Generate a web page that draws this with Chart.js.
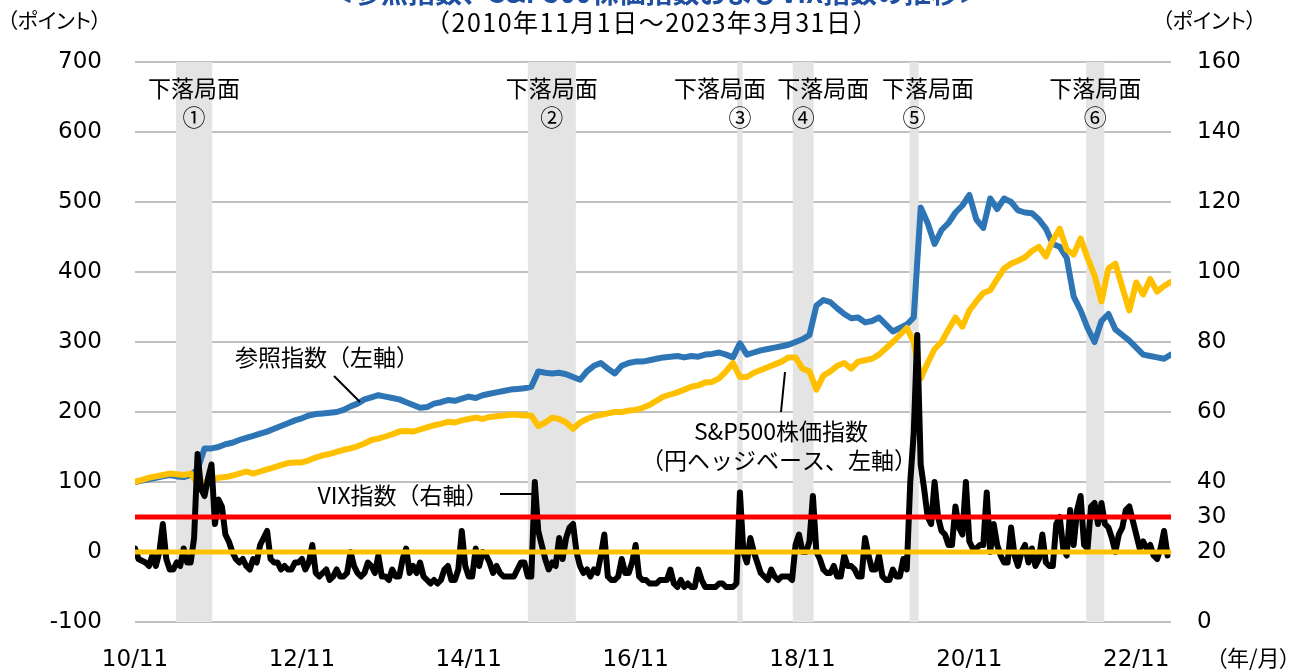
<!DOCTYPE html>
<html lang="ja">
<head>
<meta charset="utf-8">
<script src="https://cdn.jsdelivr.net/npm/chart.js@4.4.1/dist/chart.umd.min.js"></script>
<style>
  html, body { margin: 0; padding: 0; background: #fff; }
  #wrap { position: relative; width: 1296px; height: 672px; overflow: hidden; }
  .unit {
    position: absolute; font-family: "Noto Sans CJK JP", sans-serif;
    font-feature-settings: "palt" 1; color: #000; line-height: 1; white-space: nowrap;
  }
</style>
</head>
<body>
<div id="wrap">
  <canvas id="chart" width="1296" height="672"></canvas>
  <div class="unit" style="left:7px; top:9px; font-size:21px;">（ポイント）</div>
  <div class="unit" style="left:1162px; top:9px; font-size:21px;">（ポイント）</div>
  <div class="unit" style="left:1216px; top:645px; font-size:22px;">（年/月）</div>
</div>
<script>
// x は 2010年11月1日からの経過月数
const xTickMonths = [0, 24, 48, 72, 96, 120, 144];
const xTickLabels = ['10/11', '12/11', '14/11', '16/11', '18/11', '20/11', '22/11'];
const rightTicks = [0, 20, 30, 40, 60, 80, 100, 120, 140, 160];

// 参照指数（左軸）月次
const refIndex = [
  100, 102, 104, 106, 108, 110, 108, 107, 110, 118, 148, 148,
  150, 154, 156, 160, 163, 166, 169, 172, 176, 180, 184, 188,
  191, 195, 197, 198, 199, 200, 203, 208, 212, 218, 221, 224,
  222, 220, 218, 214, 210, 206, 207, 212, 214, 217, 216, 219,
  222, 220, 224, 226, 228, 230, 232, 233, 234, 236, 258, 256,
  255, 256, 254, 250, 246, 258, 266, 270, 262, 255, 266, 270,
  272, 272, 274, 276, 278, 279, 280, 278, 280, 279, 282, 283,
  285, 282, 278, 298, 282, 285, 288, 290, 292, 294, 296, 300,
  304, 310, 352, 360, 357, 348, 340, 334, 335, 328, 330, 335,
  325, 315, 320, 325, 335, 492, 470, 440, 460, 470, 485, 495,
  510, 475, 463, 505, 490, 505, 500, 488, 485, 484, 475, 462,
  440, 436, 420, 365, 345, 320, 300, 330, 340, 318, 310, 302,
  292, 282, 280, 278, 276, 282
];

// S&P500株価指数（円ヘッジベース、左軸）月次
const spIndex = [
  100, 103, 106, 108, 110, 112, 111, 110, 112, 98, 100, 104,
  106, 107, 109, 112, 115, 112, 115, 118, 121, 124, 127, 128,
  128, 131, 135, 138, 140, 143, 146, 148, 151, 155, 160, 162,
  165, 168, 172, 173, 172, 175, 178, 181, 183, 186, 185, 188,
  190, 192, 190, 193, 194, 195, 196, 196, 195, 195, 180, 185,
  192, 190, 185, 176, 185, 190, 194, 196, 198, 200, 200, 202,
  203, 206, 210, 216, 222, 225, 228, 232, 236, 238, 242, 243,
  248, 258, 270, 250, 250, 256, 260, 264, 268, 272, 278, 278,
  262, 258, 232, 252, 258, 266, 270, 262, 272, 274, 276, 282,
  291, 300, 310, 320, 300, 248, 270, 290, 300, 318, 335, 322,
  345, 358, 370, 374, 390, 405, 412, 416, 421, 430, 436, 422,
  445, 462, 432, 425, 448, 420, 395, 358, 405, 412, 378, 345,
  385, 368, 390, 372, 380, 386
];

// VIX指数（右軸）半月ごと
const vixIndex = [
  21, 18, 17.5, 17,
  16, 19, 16, 20, 28, 18, 15, 15, 17, 16, 21, 17, 17, 24, 48, 38, 36, 41, 45, 28, 35, 33, 25, 23,
  20, 18, 17, 18, 16, 15, 18, 17, 22, 24, 26, 18, 17, 17, 15, 16, 15, 15, 17, 17, 18, 15, 17, 22,
  14, 13, 14, 15, 12, 13, 15, 13, 13, 14, 20, 16, 14, 13, 14, 17, 16, 14, 19, 13, 13, 12, 15, 13,
  13, 18, 21, 14, 16, 14, 17, 13, 12, 11, 12, 11, 12, 15, 16, 12, 12, 15, 26, 16, 13, 13, 21, 16,
  20, 19, 17, 14, 16, 14, 13, 13, 13, 13, 15, 17, 17, 13, 13, 40, 26, 22, 18, 15, 17, 16, 24, 18,
  24, 27, 28, 20, 16, 14, 15, 13, 15, 14, 19, 25, 13, 12, 12, 13, 18, 14, 14, 17, 22, 13, 12, 12,
  11, 11, 11, 12, 12, 12, 15, 11, 10, 12, 10, 11, 10, 10, 15, 12, 10, 10, 10, 10, 11, 11, 10, 10,
  10, 11, 37, 20, 17, 24, 20, 17, 14, 13, 12, 15, 13, 12, 13, 13, 13, 12, 22, 25, 20, 20, 23, 36,
  20, 18, 15, 14, 14, 16, 13, 13, 19, 16, 16, 15, 13, 13, 24, 19, 15, 15, 19, 13, 12, 12, 15, 13,
  13, 18, 15, 40, 54, 82, 45, 38, 30, 28, 40, 30, 26, 25, 22, 22, 33, 27, 25, 40, 23, 21, 21, 22,
  22, 37, 20, 28, 22, 19, 17, 17, 27, 19, 16, 20, 22, 17, 21, 16, 18, 25, 17, 16, 16, 28, 30, 21,
  19, 32, 22, 32, 36, 22, 21, 33, 34, 28, 34, 28, 27, 24, 20, 25, 27, 32, 33, 29, 25, 21, 23, 21,
  22, 19, 18, 21, 26, 19
];

// 下落局面（開始・終了の経過月）
const bandStart = [5.9, 56.5, 86.6, 94.6, 111.4, 136.8];
const bandEnd = [11.1, 63.4, 87.4, 97.6, 112.7, 139.4];
const bandNumbers = ['①', '②', '③', '④', '⑤', '⑥'];

const vixLines = [30, 20];

const jp = '"Noto Sans CJK JP", "Noto Sans", sans-serif';
const num = '"DejaVu Sans", sans-serif';

const refData = refIndex.map((v, i) => ({ x: i, y: v }));
const spData = spIndex.map((v, i) => ({ x: i, y: v }));
const vixData = vixIndex.map((v, i) => ({ x: i / 2, y: v }));

const textPlugin = {
  id: 'texts',
  beforeDatasetsDraw(chart) {
    const { ctx, chartArea, scales } = chart;
    ctx.save();
    ctx.fillStyle = '#e4e4e4';
    bandStart.forEach((s, i) => {
      const x0 = scales.x.getPixelForValue(s);
      const x1 = scales.x.getPixelForValue(bandEnd[i]);
      ctx.fillRect(x0, chartArea.top, x1 - x0, chartArea.bottom - chartArea.top);
    });
    ctx.restore();
  },
  afterDraw(chart) {
    const { ctx, scales } = chart;
    ctx.save();
    ctx.textBaseline = 'middle';
    ctx.textAlign = 'center';

    // タイトル（上端で切れている）
    ctx.fillStyle = '#1f4fa0';
    ctx.font = 'bold 27px ' + jp;
    ctx.fillText('＜参照指数、S&P500株価指数およびVIX指数の推移＞', 656, -7);
    ctx.fillStyle = '#000';
    ctx.font = '25px ' + jp;
    ctx.letterSpacing = '1.5px';
    ctx.fillText('（2010年11月1日～2023年3月31日）', 652, 22);
    ctx.letterSpacing = '0px';

    // 下落局面ラベル
    const textShift = [0, 0, -20, 20, 14, 0];
    ctx.font = '23px ' + jp;
    bandStart.forEach((s, i) => {
      const c = (scales.x.getPixelForValue(s) + scales.x.getPixelForValue(bandEnd[i])) / 2;
      ctx.fillText('下落局面', c + textShift[i], 88);
      ctx.fillText(bandNumbers[i], c, 117);
    });

    // 系列ラベルと引き出し線
    ctx.fillText('参照指数（左軸）', 327, 357);
    ctx.fillText('S&P500株価指数', 781, 431);
    ctx.fillText('（円ヘッジベース、左軸）', 779, 460);
    ctx.fillText('VIX指数（右軸）', 403, 495);

    ctx.strokeStyle = '#000';
    ctx.lineWidth = 2;
    ctx.beginPath();
    ctx.moveTo(334, 376); ctx.lineTo(360, 402);
    ctx.moveTo(785, 372); ctx.lineTo(781, 412);
    ctx.moveTo(500, 494); ctx.lineTo(536, 494);
    ctx.stroke();
    ctx.restore();
  }
};

const line = (label, data, color, axis, width) => ({
  label, data, borderColor: color, backgroundColor: color, yAxisID: axis,
  borderWidth: width, pointRadius: 0, tension: 0, fill: false,
  borderJoinStyle: 'round', borderCapStyle: 'round'
});

new Chart(document.getElementById('chart'), {
  type: 'line',
  data: {
    datasets: [
      line('VIX30', [{ x: 0, y: vixLines[0] }, { x: 149, y: vixLines[0] }], '#ff0000', 'y1', 5),
      line('VIX20', [{ x: 0, y: vixLines[1] }, { x: 149, y: vixLines[1] }], '#ffc000', 'y1', 5),
      line('VIX指数', vixData, '#000000', 'y1', 6),
      line('S&P500株価指数', spData, '#ffc000', 'y', 6),
      line('参照指数', refData, '#2e75b6', 'y', 6)
    ]
  },
  options: {
    responsive: false,
    animation: false,
    layout: { padding: { top: 62, left: 0, right: 0, bottom: 0 } },
    plugins: { legend: { display: false }, tooltip: { enabled: false } },
    scales: {
      x: {
        type: 'linear', min: 0, max: 149,
        afterBuildTicks: s => { s.ticks = xTickMonths.map(v => ({ value: v })); },
        afterFit: s => { s.height = 50; },
        grid: { display: false }, border: { display: false },
        ticks: {
          autoSkip: false, maxRotation: 0, padding: 16, color: '#000',
          font: { family: num, size: 23 },
          callback: v => xTickLabels[xTickMonths.indexOf(v)]
        }
      },
      y: {
        position: 'left', min: -100, max: 700,
        afterFit: s => { s.width = 135; },
        grid: { color: '#c0c0c0', lineWidth: 2, drawTicks: false },
        border: { display: false },
        ticks: { stepSize: 100, padding: 33, color: '#000', font: { family: num, size: 23 } }
      },
      y1: {
        position: 'right', min: 0, max: 160,
        afterBuildTicks: s => { s.ticks = rightTicks.map(v => ({ value: v })); },
        afterFit: s => { s.width = 125; },
        grid: { display: false, drawTicks: false }, border: { display: false },
        ticks: { padding: 26, color: '#000', font: { family: num, size: 23 } }
      }
    }
  },
  plugins: [textPlugin]
});
</script>
</body>
</html>
